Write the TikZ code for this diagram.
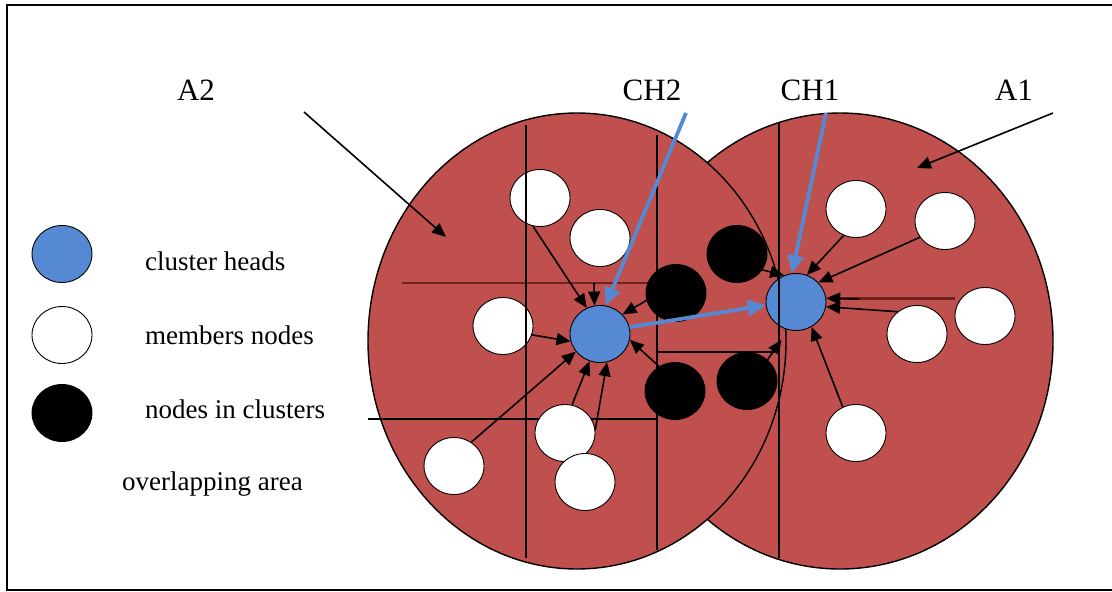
\documentclass[tikz,border=0pt]{standalone}
\usepackage{fontspec}
\setmainfont{Liberation Serif}
\usetikzlibrary{shapes.geometric,arrows.meta,calc}
\definecolor{areared}{RGB}{192,80,77}
\definecolor{chblue}{RGB}{85,137,211}
\definecolor{darkline}{RGB}{110,35,33}
\begin{document}
\begin{tikzpicture}[x=1pt,y=-1pt,
  nd/.style={ellipse,draw=black,line width=0.9pt,minimum width=60pt,minimum height=57pt,inner sep=0pt},
  head/.style={nd,fill=chblue},
  member/.style={nd,fill=white},
  inclust/.style={nd,fill=black},
  arr/.style={line width=1.6pt,-{Triangle[length=14pt,width=12pt]}},
  barr/.style={line width=3.8pt,draw=chblue,-{Triangle[length=18pt,width=16pt,fill=chblue]}},
  gridline/.style={line width=1.4pt},
  area/.style={fill=areared,draw=black,line width=1.4pt},
  lbl/.style={font=\fontsize{31}{36}\selectfont,anchor=base,inner sep=0pt},
  leg/.style={font=\fontsize{27}{32}\selectfont,anchor=base west,inner sep=0pt}]
\useasboundingbox (0,0) rectangle (1112,592);
% frame
\draw[line width=2pt] (1112,5) -- (7,5) -- (7,590) -- (1112,590);
% areas
\draw[area] (840,341) ellipse [x radius=213pt,y radius=228pt];
\draw[area] (577,341) ellipse [x radius=209pt,y radius=228pt];
% horizontal lines
\draw[draw=darkline,line width=1.8pt] (402,283) -- (657,283);
\draw[gridline] (368,419) -- (657,419);
\draw[gridline] (657,352) -- (779,352);
\draw[draw=darkline,line width=3pt] (840,298) -- (955,298);
% cluster heads
\node[head] (CH2) at (600,334) {};
\node[head] (CH1) at (796,302) {};
% member nodes A2
\node[member] (W1) at (540,198) {};
\node[member] (W2) at (600,238) {};
\node[member] (W3) at (503,326) {};
\node[member] (W4) at (454,466) {};
\node[member] (W5) at (565,433) {};
\node[member] (W6) at (585,482) {};
% member nodes A1
\node[member] (W7) at (856,209) {};
\node[member] (W8) at (945,221) {};
\node[member] (W9) at (985,316) {};
\node[member] (W10) at (917,334) {};
\node[member] (W11) at (856,433) {};
% nodes in clusters
\node[inclust] (B1) at (737,254) {};
\node[inclust] (B2) at (676,293) {};
\node[inclust] (B3) at (675,391) {};
\node[inclust] (B4) at (747,381) {};
% vertical lines
\draw[gridline] (526,125) -- (526,558);
\draw[gridline] (657,135) -- (657,550);
\draw[gridline] (779,122) -- (779,558);
% legend
\node[head] (LB) at (62,254) {};
\node[member] (LW) at (62,335) {};
\node[inclust] (LK) at (62,413) {};
\node[leg] (t1) at (145,270) {cluster heads};
\node[leg] (t2) at (145,344) {members nodes};
\node[leg] (t3) at (145,418) {nodes in clusters};
\node[leg] (t4) at (122,490) {overlapping area};
% labels
\node[lbl] (A2) at (196,100) {A2};
\node[lbl] (LCH2) at (652,100) {CH2};
\node[lbl] (LCH1) at (810,100) {CH1};
\node[lbl] (A1) at (1014,100) {A1};
% label arrow ends
\coordinate (a2s) at (304,112);
\coordinate (a2e) at (446,237);
\coordinate (a1s) at (1053,113);
\coordinate (a1e) at (917,168);
\coordinate (ch2s) at (686,113);
\coordinate (ch1s) at (826,113);
\coordinate (hl) at (594,283);
\draw[arr] (a2s) -- (a2e);
\draw[arr] (a1s) -- (a1e);
% arrows into CH2
\draw[arr] (W1.-104) -- (CH2.117);
\draw[arr] (hl) -- (CH2.101);
\draw[arr] (W3.-17) -- (CH2.194);
\draw[arr] (B2.194) -- (CH2.41);
\draw[arr] (W4.54) -- (CH2.216);
\draw[arr] (W5.76) -- (CH2.249);
\draw[arr] (W5.6) -- (CH2.284);
\draw[arr] (B3.123) -- (CH2.-11);
% arrows into CH1
\draw[arr] (B1.-32) -- (CH1.114);
\draw[arr] (W7.245) -- (CH1.68);
\draw[arr] (W8.213) -- (CH1.41);
\draw[arr] (W10.131) -- (CH1.-9);
\draw[arr] (W11.117) -- (CH1.-58);
\draw[arr,shorten >=12pt] (B4.46) -- (CH1.-105);
\draw[arr,shorten <=100pt] (W9.149) -- (CH1.7);
% blue arrows
\draw[barr] (ch2s) -- (CH2.79);
\draw[barr] (ch1s) -- (CH1.98);
\draw[barr] (CH2.13) -- (CH1.186);
\end{tikzpicture}
\end{document}
